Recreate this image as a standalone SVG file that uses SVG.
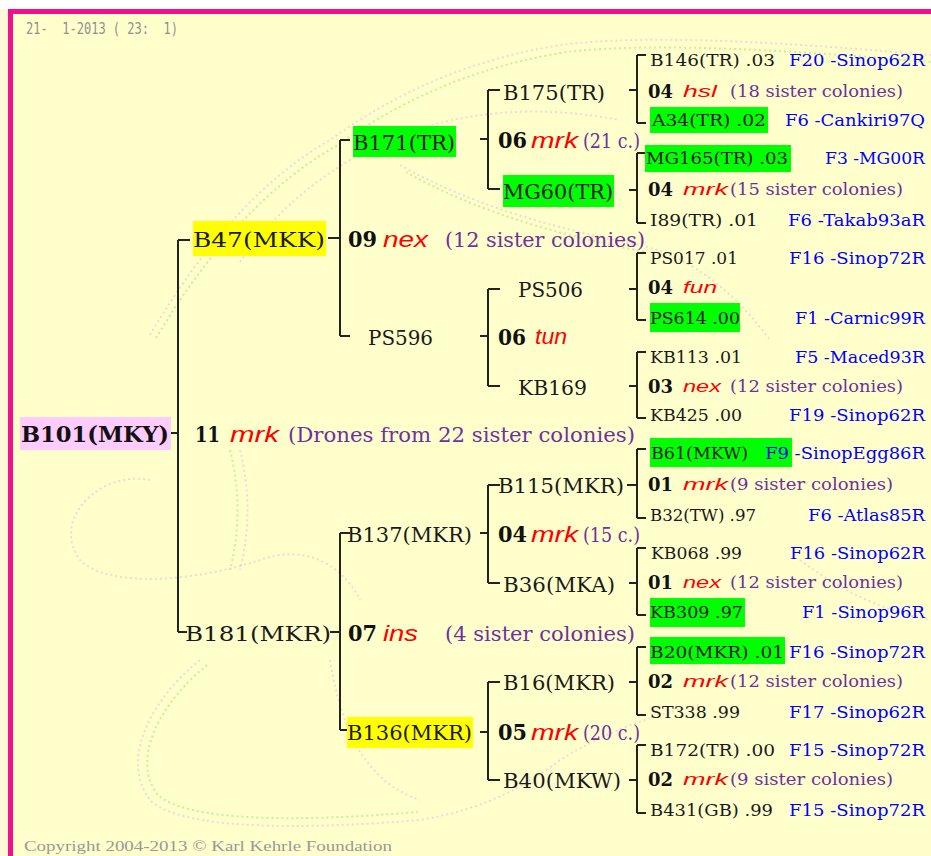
<svg xmlns="http://www.w3.org/2000/svg" width="931" height="856" viewBox="0 0 931 856">
<style>
.n{font-family:"DejaVu Serif","Liberation Serif",serif;font-size:20px;fill:#1a1a1a}
.rt{font-family:"DejaVu Serif","Liberation Serif",serif;font-size:22px;font-weight:bold;fill:#111}
.b{font-family:"DejaVu Serif","Liberation Serif",serif;font-size:22px;font-weight:bold;fill:#111}
.i{font-family:"Liberation Sans",Arial,sans-serif;font-style:italic;font-size:22px;fill:#ff0000}
.p{font-family:"DejaVu Serif","Liberation Serif",serif;font-size:20px;fill:#7030a0}
.s{font-family:"DejaVu Serif","Liberation Serif",serif;font-size:16px;fill:#1a1a1a}
.sb{font-family:"DejaVu Serif","Liberation Serif",serif;font-size:18px;font-weight:bold;fill:#111}
.si{font-family:"Liberation Sans",Arial,sans-serif;font-style:italic;font-size:17px;fill:#ff0000}
.sp{font-family:"DejaVu Serif","Liberation Serif",serif;font-size:16px;fill:#7030a0}
.bl{font-family:"DejaVu Serif","Liberation Serif",serif;font-size:16px;fill:#0000ff}
.g{font-family:"DejaVu Sans Mono","Liberation Mono",monospace;font-size:15px;fill:#909090}
.ln{stroke:#222;stroke-width:2;fill:none}
.gr{fill:#00ff00}
.ye{fill:#ffff00}
.pk{fill:#ffccff}
.wm{fill:none;stroke-width:2;stroke-dasharray:2 3;opacity:0.5}
.w1{stroke:#f0b0d8}
.w2{stroke:#90e070}
</style>
<rect x="0" y="0" width="931" height="856" fill="#fff8d8"/>
<rect x="0" y="0" width="931" height="9" fill="#ffffff"/>
<rect x="13" y="14" width="918" height="842" fill="#ffffcc"/>
<rect x="8" y="9" width="923" height="5" fill="#f0108c"/>
<rect x="8" y="9" width="5" height="847" fill="#f0108c"/>

<g id="watermark">
<path class="wm w1" d="M150,335 C200,250 260,180 330,140 C400,90 470,60 560,45 C640,35 760,40 931,55"/>
<path class="wm w2" d="M156,338 C206,254 266,186 336,146 C406,97 476,67 566,52 C646,43 766,48 931,62"/>
<path class="wm w1" d="M240,262 C280,205 330,165 400,135 C470,110 540,105 620,120"/>
<path class="wm w1" d="M400,165 C470,205 560,230 640,245 C700,260 740,300 770,340"/>
<path class="wm w2" d="M406,172 C476,212 566,237 646,252"/>
<path class="wm w1" d="M800,560 C840,590 880,610 931,620"/>
<path class="wm w1" d="M240,450 C250,490 250,530 240,570"/>
<path class="wm w2" d="M230,450 C240,490 240,530 230,570"/>
<path class="wm w1" d="M150,480 C100,470 50,520 80,560 C110,590 200,580 260,560 C300,545 340,560 360,600"/>
<path class="wm w1" d="M200,660 C150,700 120,760 150,800 C180,830 300,830 420,820 C480,810 520,790 560,760 C600,735 650,715 700,705"/>
<path class="wm w2" d="M207,665 C160,703 130,760 158,795 C188,822 300,822 418,812"/>
<path class="wm w1" d="M330,660 C340,720 360,780 420,800"/>
</g>

<text class="g" x="26" y="34" xml:space="preserve" style="white-space:pre" textLength="152" lengthAdjust="spacingAndGlyphs">21-  1-2013 ( 23:  1)</text>
<text x="24" y="851" textLength="368" lengthAdjust="spacingAndGlyphs" style="font-family:'Liberation Serif',serif;font-size:15px;fill:#999">Copyright 2004-2013 © Karl Kehrle Foundation</text>

<g id="connectors">
<path class="ln" d="M170,433H178M178,240V632M178,240H190M178,632H187"/>
<path class="ln" d="M328,238H340M340,140V336M340,140H350M340,336H350"/>
<path class="ln" d="M330,632H340M340,533V730M340,533H350M340,730H350"/>
<path class="ln" d="M480,139H488M488,90V189M488,90H500M488,189H500"/>
<path class="ln" d="M480,336H488M488,289V386M488,289H500M488,386H500"/>
<path class="ln" d="M480,533H488M488,485V583M488,485H500M488,583H500"/>
<path class="ln" d="M480,732H488M488,682V780M488,682H500M488,780H500"/>
<path class="ln" d="M629,90H637M637,55V123M637,55H646M637,123H646"/>
<path class="ln" d="M629,190H637M637,153V223M637,153H646M637,223H646"/>
<path class="ln" d="M629,289H637M637,253V320M637,253H646M637,320H646"/>
<path class="ln" d="M629,386H637M637,352V418M637,352H646M637,418H646"/>
<path class="ln" d="M627,485H637M637,449V518M637,449H646M637,518H646"/>
<path class="ln" d="M629,583H637M637,548V615M637,548H646M637,615H646"/>
<path class="ln" d="M629,682H637M637,647V715M637,647H646M637,715H646"/>
<path class="ln" d="M629,780H637M637,745V813M637,745H646M637,813H646"/>
</g>

<g id="B101">
<rect class="pk" x="20" y="417" width="151" height="33"/>
<text class="rt" x="21" y="442" textLength="148" lengthAdjust="spacingAndGlyphs">B101(MKY)</text>
</g>
<g id="mate-root">
<text class="b" x="195" y="442" textLength="25" lengthAdjust="spacingAndGlyphs">11</text>
<text class="i" x="230" y="442" textLength="49" lengthAdjust="spacingAndGlyphs">mrk</text>
<text class="p" x="288" y="442" textLength="347" lengthAdjust="spacingAndGlyphs">(Drones from 22 sister colonies)</text>
</g>

<g id="B47">
<rect class="ye" x="193" y="221" width="133" height="35"/>
<text class="n" x="193" y="247" font-size="21" textLength="132" lengthAdjust="spacingAndGlyphs">B47(MKK)</text>
</g>
<g id="mate-B47">
<text class="b" x="348" y="247" textLength="29" lengthAdjust="spacingAndGlyphs">09</text>
<text class="i" x="383" y="247" textLength="45" lengthAdjust="spacingAndGlyphs">nex</text>
<text class="p" x="445" y="247" textLength="200" lengthAdjust="spacingAndGlyphs">(12 sister colonies)</text>
</g>

<g id="B181">
<text class="n" x="185" y="641" font-size="21" textLength="146" lengthAdjust="spacingAndGlyphs">B181(MKR)</text>
</g>
<g id="mate-B181">
<text class="b" x="348" y="641" textLength="29" lengthAdjust="spacingAndGlyphs">07</text>
<text class="i" x="383" y="641" textLength="35" lengthAdjust="spacingAndGlyphs">ins</text>
<text class="p" x="445" y="641" textLength="190" lengthAdjust="spacingAndGlyphs">(4 sister colonies)</text>
</g>

<g id="B171">
<rect class="gr" x="353" y="126" width="103" height="31"/>
<text class="n" x="353" y="150" textLength="102" lengthAdjust="spacingAndGlyphs">B171(TR)</text>
</g>
<g id="mate-B171">
<text class="b" x="498" y="148" textLength="29" lengthAdjust="spacingAndGlyphs">06</text>
<text class="i" x="531" y="148" textLength="47" lengthAdjust="spacingAndGlyphs">mrk</text>
<text class="p" x="583" y="148" textLength="57" lengthAdjust="spacingAndGlyphs">(21 c.)</text>
</g>

<g id="PS596">
<text class="n" x="368" y="345" textLength="65" lengthAdjust="spacingAndGlyphs">PS596</text>
</g>
<g id="mate-PS596">
<text class="b" x="498" y="345" textLength="28" lengthAdjust="spacingAndGlyphs">06</text>
<text class="i" x="535" y="344" font-size="19" textLength="32" lengthAdjust="spacingAndGlyphs">tun</text>
</g>

<g id="B137">
<text class="n" x="347" y="542" textLength="125" lengthAdjust="spacingAndGlyphs">B137(MKR)</text>
</g>
<g id="mate-B137">
<text class="b" x="498" y="542" textLength="29" lengthAdjust="spacingAndGlyphs">04</text>
<text class="i" x="531" y="542" textLength="47" lengthAdjust="spacingAndGlyphs">mrk</text>
<text class="p" x="583" y="542" textLength="57" lengthAdjust="spacingAndGlyphs">(15 c.)</text>
</g>

<g id="B136">
<rect class="ye" x="347" y="717" width="126" height="31"/>
<text class="n" x="347" y="740" textLength="125" lengthAdjust="spacingAndGlyphs">B136(MKR)</text>
</g>
<g id="mate-B136">
<text class="b" x="498" y="740" textLength="29" lengthAdjust="spacingAndGlyphs">05</text>
<text class="i" x="531" y="740" textLength="47" lengthAdjust="spacingAndGlyphs">mrk</text>
<text class="p" x="583" y="740" textLength="57" lengthAdjust="spacingAndGlyphs">(20 c.)</text>
</g>

<g id="B175"><text class="n" x="503" y="100" textLength="102" lengthAdjust="spacingAndGlyphs">B175(TR)</text></g>
<g id="MG60"><rect class="gr" x="503" y="175" width="111" height="32"/><text class="n" x="503" y="199" textLength="110" lengthAdjust="spacingAndGlyphs">MG60(TR)</text></g>
<g id="PS506"><text class="n" x="518" y="297" textLength="65" lengthAdjust="spacingAndGlyphs">PS506</text></g>
<g id="KB169"><text class="n" x="518" y="395" textLength="69" lengthAdjust="spacingAndGlyphs">KB169</text></g>
<g id="B115"><text class="n" x="498" y="493" textLength="126" lengthAdjust="spacingAndGlyphs">B115(MKR)</text></g>
<g id="B36"><text class="n" x="503" y="592" textLength="112" lengthAdjust="spacingAndGlyphs">B36(MKA)</text></g>
<g id="B16"><text class="n" x="503" y="690" textLength="112" lengthAdjust="spacingAndGlyphs">B16(MKR)</text></g>
<g id="B40"><text class="n" x="503" y="788" textLength="118" lengthAdjust="spacingAndGlyphs">B40(MKW)</text></g>

<g id="B146"><text class="s" x="650" y="66" textLength="125" lengthAdjust="spacingAndGlyphs">B146(TR) .03</text><text class="bl" x="789" y="66" textLength="136" lengthAdjust="spacingAndGlyphs">F20 -Sinop62R</text></g>
<g id="mate-B175"><text class="sb" x="648" y="98" textLength="25" lengthAdjust="spacingAndGlyphs">04</text><text class="si" x="683" y="97" textLength="34" lengthAdjust="spacingAndGlyphs">hsl</text><text class="sp" x="730" y="97" textLength="173" lengthAdjust="spacingAndGlyphs">(18 sister colonies)</text></g>
<g id="A34"><rect class="gr" x="650" y="107" width="118" height="26"/><text class="s" x="652" y="126" textLength="114" lengthAdjust="spacingAndGlyphs">A34(TR) .02</text><text class="bl" x="785" y="126" textLength="140" lengthAdjust="spacingAndGlyphs">F6 -Cankiri97Q</text></g>

<g id="MG165"><rect class="gr" x="645" y="145" width="146" height="27"/><text class="s" x="646" y="164" textLength="142" lengthAdjust="spacingAndGlyphs">MG165(TR) .03</text><text class="bl" x="825" y="164" textLength="100" lengthAdjust="spacingAndGlyphs">F3 -MG00R</text></g>
<g id="mate-MG60"><text class="sb" x="648" y="196" textLength="25" lengthAdjust="spacingAndGlyphs">04</text><text class="si" x="683" y="195" textLength="45" lengthAdjust="spacingAndGlyphs">mrk</text><text class="sp" x="730" y="195" textLength="173" lengthAdjust="spacingAndGlyphs">(15 sister colonies)</text></g>
<g id="I89"><text class="s" x="650" y="226" textLength="108" lengthAdjust="spacingAndGlyphs">I89(TR) .01</text><text class="bl" x="788" y="226" textLength="137" lengthAdjust="spacingAndGlyphs">F6 -Takab93aR</text></g>

<g id="PS017"><text class="s" x="650" y="264" textLength="88" lengthAdjust="spacingAndGlyphs">PS017 .01</text><text class="bl" x="789" y="264" textLength="136" lengthAdjust="spacingAndGlyphs">F16 -Sinop72R</text></g>
<g id="mate-PS506"><text class="sb" x="648" y="294" textLength="25" lengthAdjust="spacingAndGlyphs">04</text><text class="si" x="683" y="293" textLength="34" lengthAdjust="spacingAndGlyphs">fun</text></g>
<g id="PS614"><rect class="gr" x="650" y="303" width="90" height="29"/><text class="s" x="650" y="324" textLength="90" lengthAdjust="spacingAndGlyphs">PS614 .00</text><text class="bl" x="795" y="324" textLength="130" lengthAdjust="spacingAndGlyphs">F1 -Carnic99R</text></g>

<g id="KB113"><text class="s" x="650" y="363" textLength="92" lengthAdjust="spacingAndGlyphs">KB113 .01</text><text class="bl" x="795" y="363" textLength="130" lengthAdjust="spacingAndGlyphs">F5 -Maced93R</text></g>
<g id="mate-KB169"><text class="sb" x="648" y="393" textLength="25" lengthAdjust="spacingAndGlyphs">03</text><text class="si" x="683" y="392" textLength="38" lengthAdjust="spacingAndGlyphs">nex</text><text class="sp" x="730" y="392" textLength="173" lengthAdjust="spacingAndGlyphs">(12 sister colonies)</text></g>
<g id="KB425"><text class="s" x="650" y="421" textLength="92" lengthAdjust="spacingAndGlyphs">KB425 .00</text><text class="bl" x="789" y="421" textLength="136" lengthAdjust="spacingAndGlyphs">F19 -Sinop62R</text></g>

<g id="B61"><rect class="gr" x="650" y="438" width="142" height="29"/><text class="s" x="651" y="459" textLength="97" lengthAdjust="spacingAndGlyphs">B61(MKW)</text><text class="bl" x="765" y="459" textLength="160" lengthAdjust="spacingAndGlyphs">F9 -SinopEgg86R</text></g>
<g id="mate-B115"><text class="sb" x="648" y="491" textLength="25" lengthAdjust="spacingAndGlyphs">01</text><text class="si" x="683" y="490" textLength="45" lengthAdjust="spacingAndGlyphs">mrk</text><text class="sp" x="730" y="490" textLength="163" lengthAdjust="spacingAndGlyphs">(9 sister colonies)</text></g>
<g id="B32"><text class="s" x="650" y="521" textLength="106" lengthAdjust="spacingAndGlyphs">B32(TW) .97</text><text class="bl" x="808" y="521" textLength="117" lengthAdjust="spacingAndGlyphs">F6 -Atlas85R</text></g>

<g id="KB068"><text class="s" x="651" y="559" textLength="91" lengthAdjust="spacingAndGlyphs">KB068 .99</text><text class="bl" x="790" y="559" textLength="135" lengthAdjust="spacingAndGlyphs">F16 -Sinop62R</text></g>
<g id="mate-B36"><text class="sb" x="648" y="589" textLength="25" lengthAdjust="spacingAndGlyphs">01</text><text class="si" x="683" y="588" textLength="38" lengthAdjust="spacingAndGlyphs">nex</text><text class="sp" x="730" y="588" textLength="173" lengthAdjust="spacingAndGlyphs">(12 sister colonies)</text></g>
<g id="KB309"><rect class="gr" x="650" y="598" width="95" height="29"/><text class="s" x="650" y="618" textLength="93" lengthAdjust="spacingAndGlyphs">KB309 .97</text><text class="bl" x="802" y="618" textLength="123" lengthAdjust="spacingAndGlyphs">F1 -Sinop96R</text></g>

<g id="B20"><rect class="gr" x="650" y="637" width="135" height="27"/><text class="s" x="650" y="658" textLength="134" lengthAdjust="spacingAndGlyphs">B20(MKR) .01</text><text class="bl" x="789" y="658" textLength="136" lengthAdjust="spacingAndGlyphs">F16 -Sinop72R</text></g>
<g id="mate-B16"><text class="sb" x="648" y="688" textLength="25" lengthAdjust="spacingAndGlyphs">02</text><text class="si" x="683" y="687" textLength="45" lengthAdjust="spacingAndGlyphs">mrk</text><text class="sp" x="730" y="687" textLength="173" lengthAdjust="spacingAndGlyphs">(12 sister colonies)</text></g>
<g id="ST338"><text class="s" x="650" y="718" textLength="90" lengthAdjust="spacingAndGlyphs">ST338 .99</text><text class="bl" x="789" y="718" textLength="136" lengthAdjust="spacingAndGlyphs">F17 -Sinop62R</text></g>

<g id="B172"><text class="s" x="650" y="756" textLength="125" lengthAdjust="spacingAndGlyphs">B172(TR) .00</text><text class="bl" x="789" y="756" textLength="136" lengthAdjust="spacingAndGlyphs">F15 -Sinop72R</text></g>
<g id="mate-B40"><text class="sb" x="648" y="786" textLength="25" lengthAdjust="spacingAndGlyphs">02</text><text class="si" x="683" y="785" textLength="45" lengthAdjust="spacingAndGlyphs">mrk</text><text class="sp" x="730" y="785" textLength="163" lengthAdjust="spacingAndGlyphs">(9 sister colonies)</text></g>
<g id="B431"><text class="s" x="650" y="816" textLength="123" lengthAdjust="spacingAndGlyphs">B431(GB) .99</text><text class="bl" x="789" y="816" textLength="136" lengthAdjust="spacingAndGlyphs">F15 -Sinop72R</text></g>
</svg>
